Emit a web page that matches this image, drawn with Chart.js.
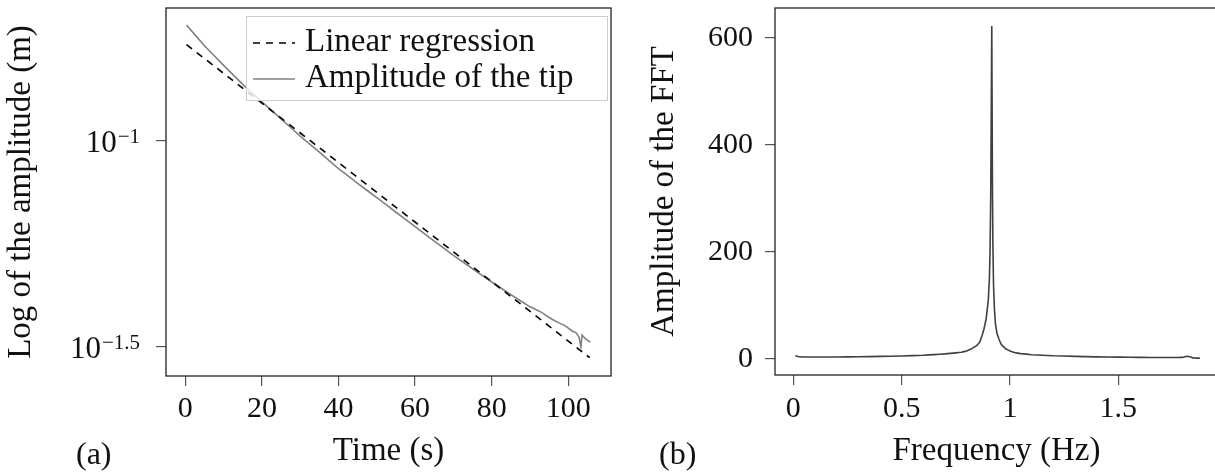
<!DOCTYPE html>
<html>
<head>
<meta charset="utf-8">
<script src="https://cdn.jsdelivr.net/npm/chart.js@4.4.1/dist/chart.umd.min.js"></script>
<style>
  html, body { margin: 0; padding: 0; background: #fff; overflow: hidden; width: 1215px; height: 472px; }
  .panel { position: absolute; top: 0; height: 472px; }
  #left { left: 0; width: 615px; }
  #right { left: 615px; width: 620px; }
  .tag { position: absolute; font-family: "Liberation Serif", "Times New Roman", serif; font-size: 32px; color: #111; line-height: 36px; }
</style>
</head>
<body>
<div class="panel" id="left"><canvas id="decayChart" width="615" height="472"></canvas></div>
<div class="panel" id="right"><canvas id="fftChart" width="620" height="472"></canvas></div>
<div class="tag" style="left:76px;top:435px">(a)</div>
<div class="tag" style="left:659px;top:435px">(b)</div>
<script>
const FONT = '"Liberation Serif", "Times New Roman", serif';

// (a) decay of the tip amplitude
const timeS = [0.3, 5, 10, 15, 20, 25, 30, 35, 40, 45, 50, 55, 60, 65, 70, 75, 80, 85, 90, 93, 95, 97, 99, 101, 102, 102.8, 103.3, 103.6, 104.5, 105.8];
const tipAmplitude = [0.1915, 0.1706, 0.1528, 0.1374, 0.1245, 0.1132, 0.1028, 0.0940, 0.0857, 0.0789, 0.0728, 0.0671, 0.0619, 0.0571, 0.0527, 0.0489, 0.0454, 0.0423, 0.0395, 0.0383, 0.0372, 0.0363, 0.0356, 0.0345, 0.0342, 0.0333, 0.0316, 0.0337, 0.0330, 0.0324];
const regTime = [0.3, 105.6];
const regAmplitude = [0.1717, 0.0297];
const timeTicks = [0, 20, 40, 60, 80, 100];
const ampTicks = [0.1, 0.0316228];
const ampTickLabels = [['10', '\u22121'], ['10', '\u22121.5']];

// (b) spectrum
const freqHz = [0.010, 0.020, 0.040, 0.10, 0.20, 0.30, 0.40, 0.50, 0.60, 0.65, 0.70, 0.75, 0.776, 0.80, 0.82, 0.846, 0.86, 0.872, 0.88, 0.89, 0.90, 0.905, 0.908, 0.911, 0.913, 0.915, 0.916, 0.917, 0.919, 0.921, 0.924, 0.928, 0.933, 0.94, 0.95, 0.96, 0.98, 1.00, 1.02, 1.05, 1.10, 1.15, 1.20, 1.30, 1.40, 1.50, 1.60, 1.70, 1.78, 1.80, 1.815, 1.83, 1.845, 1.86, 1.877];
const fftAmplitude = [6.5, 4.5, 3.8, 3.6, 3.8, 4.2, 4.8, 5.6, 7.0, 8.2, 9.5, 11.5, 12.5, 15, 18.5, 25, 31, 45, 56, 75, 110, 150, 200, 300, 420, 560, 622, 520, 330, 220, 140, 95, 65, 48, 36, 27, 19, 15, 12, 10, 8, 7, 6, 4.9, 4.0, 3.4, 3.0, 2.8, 2.8, 3.3, 5.0, 4.2, 2.0, 1.6, 1.5];
const freqTicks = [0, 0.5, 1, 1.5];
const fftTicks = [0, 200, 400, 600];

function pairs(xs, ys) {
  return xs.map((x, i) => ({ x, y: ys[i] }));
}

const framePlugin = {
  id: 'frame',
  afterDatasetsDraw(chart) {
    const { ctx, chartArea: a } = chart;
    ctx.save();
    ctx.strokeStyle = '#222';
    ctx.lineWidth = 1.3;
    ctx.strokeRect(a.left, a.top, a.right - a.left, a.bottom - a.top);
    ctx.restore();
  }
};

// tick labels with superscript exponent for the log axis
const supTicks = {
  id: 'supTicks',
  afterDraw(chart) {
    const y = chart.scales.y;
    const ctx = chart.ctx;
    ctx.save();
    ctx.fillStyle = '#111';
    ctx.textAlign = 'right';
    ctx.textBaseline = 'alphabetic';
    ampTicks.forEach((v, i) => {
      const py = y.getPixelForValue(v);
      const [base, exp] = ampTickLabels[i];
      const right = y.right - 26;
      ctx.font = '21px ' + FONT;
      const ew = ctx.measureText(exp).width;
      ctx.fillText(exp, right, py + 2);
      ctx.font = '31px ' + FONT;
      ctx.fillText(base, right - ew - 1, py + 11);
    });
    ctx.restore();
  }
};

const legendBox = {
  id: 'legendBox',
  afterDraw(chart) {
    const { ctx, chartArea: a } = chart;
    const left = a.left + 80, top = a.top + 8, right = a.right - 3, bottom = a.top + 93;
    ctx.save();
    ctx.fillStyle = 'rgba(255,255,255,0.8)';
    ctx.fillRect(left, top, right - left, bottom - top);
    ctx.strokeStyle = '#cccccc';
    ctx.lineWidth = 1;
    ctx.strokeRect(left + 0.5, top + 0.5, right - left - 1, bottom - top - 1);
    chart.data.datasets.forEach((ds, i) => {
      const ly = top + 27 + i * 36;
      ctx.strokeStyle = ds.borderColor;
      ctx.lineWidth = ds.borderWidth;
      ctx.setLineDash(ds.borderDash || []);
      ctx.beginPath();
      ctx.moveTo(left + 7, ly);
      ctx.lineTo(left + 49, ly);
      ctx.stroke();
      ctx.setLineDash([]);
      ctx.fillStyle = '#111';
      ctx.font = '33px ' + FONT;
      ctx.textAlign = 'left';
      ctx.textBaseline = 'alphabetic';
      ctx.fillText(ds.label, left + 59, ly + 8);
    });
    ctx.restore();
  }
};

function tickGrid() {
  return { display: true, drawOnChartArea: false, drawTicks: true, tickLength: 10, tickColor: '#555', lineWidth: 1.2 };
}

// keep the plot box where the layout padding puts it
function fixHeight(h) {
  return s => { s.height = h; s.paddingLeft = 0; s.paddingRight = 0; s.paddingTop = 0; s.paddingBottom = 0; };
}
function fixWidth(w) {
  return s => { s.width = w; s.paddingLeft = 0; s.paddingRight = 0; s.paddingTop = 0; s.paddingBottom = 0; };
}

new Chart(document.getElementById('decayChart').getContext('2d'), {
  type: 'line',
  data: {
    datasets: [
      {
        label: 'Linear regression',
        data: pairs(regTime, regAmplitude),
        borderColor: '#000',
        borderWidth: 1.6,
        borderDash: [7, 6],
        pointRadius: 0,
        fill: false,
        tension: 0
      },
      {
        label: 'Amplitude of the tip',
        data: pairs(timeS, tipAmplitude),
        borderColor: '#808080',
        borderWidth: 1.6,
        pointRadius: 0,
        fill: false,
        tension: 0.0001
      }
    ]
  },
  options: {
    responsive: false,
    animation: false,
    events: [],
    layout: { padding: { left: 0, right: 4, top: 8, bottom: 0 } },
    plugins: { legend: { display: false }, tooltip: { enabled: false } },
    scales: {
      x: {
        type: 'linear',
        min: -5.04,
        max: 111.15,
        afterBuildTicks: s => { s.ticks = timeTicks.map(v => ({ value: v })); },
        afterFit: fixHeight(96),
        grid: tickGrid(),
        border: { display: false },
        ticks: { font: { family: FONT, size: 30 }, color: '#111', padding: 5, maxRotation: 0, autoSkip: false },
        title: { display: true, text: 'Time (s)', font: { family: FONT, size: 33 }, color: '#111', padding: { top: 0, bottom: 1 } }
      },
      y: {
        type: 'logarithmic',
        min: 0.02681,
        max: 0.2107,
        afterBuildTicks: s => { s.ticks = ampTicks.map(v => ({ value: v })); },
        afterFit: fixWidth(166),
        grid: tickGrid(),
        border: { display: false },
        ticks: { callback: () => '', font: { family: FONT, size: 30 } },
        title: { display: true, text: 'Log of the amplitude (m)', font: { family: FONT, size: 33 }, color: '#111', padding: { top: 2, bottom: 0 } }
      }
    }
  },
  plugins: [framePlugin, supTicks, legendBox]
});

new Chart(document.getElementById('fftChart').getContext('2d'), {
  type: 'line',
  data: {
    datasets: [
      {
        label: 'FFT',
        data: pairs(freqHz, fftAmplitude),
        borderColor: '#404040',
        borderWidth: 1.6,
        pointRadius: 0,
        fill: false,
        tension: 0.0001
      }
    ]
  },
  options: {
    responsive: false,
    animation: false,
    events: [],
    layout: { padding: { left: 0, right: 17, top: 8, bottom: 0 } },
    plugins: { legend: { display: false }, tooltip: { enabled: false } },
    scales: {
      x: {
        type: 'linear',
        min: -0.0844,
        max: 1.96,
        afterBuildTicks: s => { s.ticks = freqTicks.map(v => ({ value: v })); },
        afterFit: fixHeight(97),
        grid: tickGrid(),
        border: { display: false },
        ticks: { callback: v => String(v), font: { family: FONT, size: 30 }, color: '#111', padding: 6, maxRotation: 0, autoSkip: false },
        title: { display: true, text: 'Frequency (Hz)', font: { family: FONT, size: 33 }, color: '#111', padding: { top: 0, bottom: 1 } }
      },
      y: {
        type: 'linear',
        min: -29.9,
        max: 655.5,
        afterBuildTicks: s => { s.ticks = fftTicks.map(v => ({ value: v })); },
        afterFit: fixWidth(160),
        grid: tickGrid(),
        border: { display: false },
        ticks: { font: { family: FONT, size: 30 }, color: '#111', padding: 12 },
        title: { display: true, text: 'Amplitude of the FFT', font: { family: FONT, size: 33 }, color: '#111', padding: { top: 30, bottom: 0 } }
      }
    }
  },
  plugins: [framePlugin]
});
</script>
</body>
</html>
